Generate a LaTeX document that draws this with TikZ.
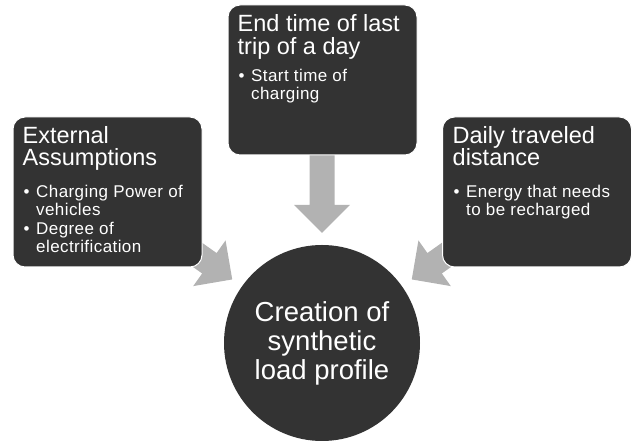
\documentclass[tikz,border=0pt]{standalone}
\usepackage{fontspec}
\setmainfont{Liberation Sans}
\newfontfamily\bulletfamily[LetterSpace=2.5]{Liberation Sans}
\definecolor{boxdark}{RGB}{51,51,51}
\definecolor{arrowgray}{RGB}{178,178,178}
\newcommand\titlefont{\fontsize{23.5}{22.5}\selectfont}
\newcommand\itemfont{\bulletfamily\fontsize{17}{17.3}\selectfont}
\newcommand\circfont{\fontsize{27.5}{29}\selectfont}
\begin{document}
\begin{tikzpicture}[x=1pt,y=1pt,
  box/.style={draw=white, line width=1pt, fill=boxdark, rounded corners=12pt,
    minimum width=189pt, minimum height=150pt, inner sep=0pt},
  txt/.style={text=white, inner sep=0pt, anchor=base west},
  bigarrow/.style={fill=arrowgray, draw=none}]
\useasboundingbox (0,0) rectangle (641,441);
\node[circle, fill=boxdark, minimum size=196pt, inner sep=0pt] (circ) at (322,98) {};
\foreach \ang in {90,144.7,35.3} {
  \fill[bigarrow, shift={(circ.center)}, rotate=\ang]
    (200,12.5) -- (138,12.5) -- (138,28) -- (110,0) -- (138,-28) -- (138,-12.5) -- (200,-12.5) -- cycle;
}
\node[box] (lbox) at (107.5,249) {};
\node[box] (tbox) at (322.5,361) {};
\node[box] (rbox) at (537,249) {};
% left box text
\node[txt] (ltitle) at (22.5,297.5) {\parbox[t]{180pt}{\titlefont External\\Assumptions}};
\node[txt] (lb1) at (23.5,243) {\itemfont •};
\node[txt] (li1) at (36,243) {\parbox[t]{165pt}{\itemfont Charging Power of\\vehicles}};
\node[txt] (lb2) at (23.5,206) {\itemfont •};
\node[txt] (li2) at (36,206) {\parbox[t]{165pt}{\itemfont Degree of\\electrification}};
% top box text
\node[txt] (ttitle) at (237.5,409) {\parbox[t]{180pt}{\titlefont End time of last\\trip of a day}};
\node[txt] (tb1) at (238.5,359) {\itemfont •};
\node[txt] (ti1) at (251,359) {\parbox[t]{165pt}{\itemfont Start time of\\charging}};
% right box text
\node[txt] (rtitle) at (452.5,297.5) {\parbox[t]{180pt}{\titlefont Daily traveled\\distance}};
\node[txt] (rb1) at (453.5,243) {\itemfont •};
\node[txt] (ri1) at (466,243) {\parbox[t]{165pt}{\itemfont Energy that needs\\to be recharged}};
% circle text
\node[text=white, inner sep=0pt, anchor=base] (ctext) at (322,119.3)
  {\parbox[t]{190pt}{\centering\circfont Creation of\\synthetic\\load profile}};
\end{tikzpicture}
\end{document}
